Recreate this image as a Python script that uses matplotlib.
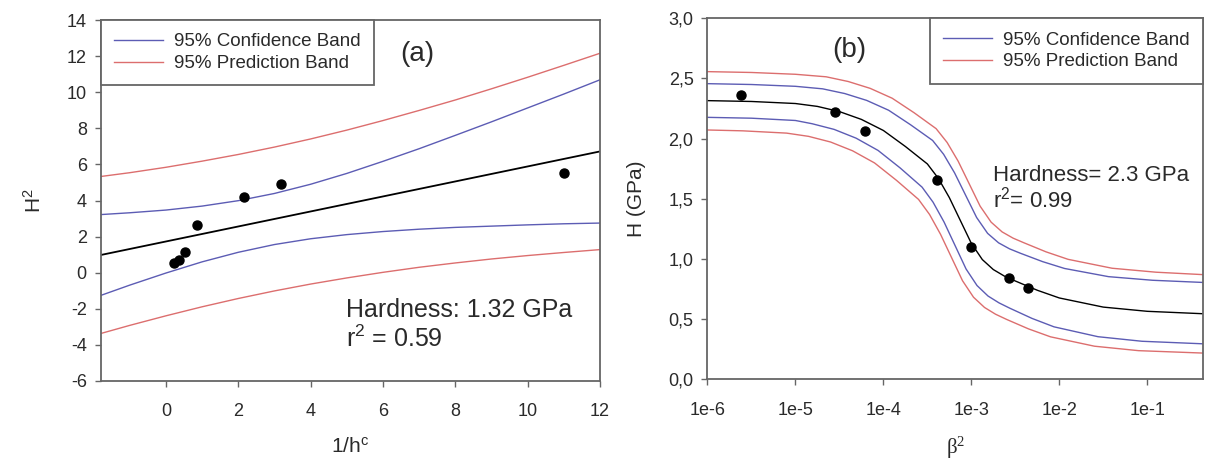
import matplotlib
matplotlib.use('Agg')
import matplotlib.pyplot as plt
import numpy as np
from matplotlib.ticker import FixedLocator, FixedFormatter, NullLocator

plt.rcParams['font.family'] = ['Liberation Sans', 'DejaVu Sans']
plt.rcParams['axes.unicode_minus'] = False

# panel (a): H^2 against 1/h^c
hc_inv = [0.23, 0.35, 0.54, 0.85, 2.15, 3.18, 11.0]
H2 = [0.54, 0.72, 1.15, 2.67, 4.22, 4.89, 5.52]
fit_a_x = [-1.8, 12]
fit_a_y = [0.98, 6.72]
band_a_x = [-1.8, -1, 0, 1, 2, 3, 4, 5, 6, 7, 8, 9, 10, 11, 12]
conf_a_up = [3.22, 3.32, 3.47, 3.69, 3.99, 4.39, 4.90, 5.50, 6.17, 6.87, 7.61, 8.36, 9.13, 9.90, 10.69]
conf_a_lo = [-1.26, -0.69, -0.02, 0.60, 1.13, 1.56, 1.88, 2.11, 2.28, 2.41, 2.51, 2.58, 2.65, 2.71, 2.75]
pred_a_up = [5.33, 5.54, 5.84, 6.18, 6.55, 6.96, 7.41, 7.90, 8.43, 8.99, 9.57, 10.19, 10.83, 11.49, 12.16]
pred_a_lo = [-3.37, -2.92, -2.39, -1.89, -1.43, -1.01, -0.63, -0.29, 0.02, 0.30, 0.54, 0.76, 0.95, 1.12, 1.28]

# panel (b): H against beta^2 (curve positions given as log10 of beta^2)
beta2 = [2.4e-6, 2.83e-5, 6.2e-5, 4.07e-4, 1.0e-3, 2.65e-3, 4.4e-3]
H = [2.366, 2.219, 2.066, 1.657, 1.097, 0.845, 0.756]
fit_b_exp = [-6, -5.5, -5, -4.75, -4.5, -4.25, -4, -3.75, -3.5, -3.375, -3.25,
             -3.125, -3, -2.875, -2.75, -2.625, -2.5, -2.25, -2, -1.5, -1, -0.37]
fit_b = [2.316, 2.309, 2.292, 2.268, 2.225, 2.160, 2.068, 1.935, 1.790, 1.670, 1.510,
         1.320, 1.130, 0.995, 0.912, 0.858, 0.817, 0.740, 0.676, 0.600, 0.565, 0.545]
conf_up_exp = [-6, -5.5, -5, -4.69, -4.44, -4.19, -3.94, -3.69, -3.44, -3.315, -3.19,
               -3.065, -2.94, -2.815, -2.69, -2.565, -2.44, -2.19, -1.94, -1.44, -0.94, -0.37]
conf_b_up = [2.457, 2.450, 2.435, 2.414, 2.375, 2.318, 2.236, 2.115, 1.985, 1.870, 1.715,
             1.530, 1.345, 1.213, 1.134, 1.084, 1.047, 0.978, 0.921, 0.853, 0.823, 0.805]
conf_lo_exp = [-6, -5.5, -5, -4.81, -4.56, -4.31, -4.06, -3.81, -3.56, -3.435, -3.31,
               -3.185, -3.06, -2.935, -2.81, -2.685, -2.56, -2.31, -2.06, -1.56, -1.06, -0.37]
conf_b_lo = [2.177, 2.170, 2.151, 2.124, 2.077, 2.004, 1.902, 1.757, 1.597, 1.472, 1.307,
             1.112, 0.917, 0.779, 0.692, 0.635, 0.590, 0.506, 0.436, 0.354, 0.316, 0.295]
pred_up_exp = [-6, -5.5, -5, -4.65, -4.4, -4.15, -3.9, -3.65, -3.4, -3.275, -3.15,
               -3.025, -2.9, -2.775, -2.65, -2.525, -2.4, -2.15, -1.9, -1.4, -0.9, -0.37]
pred_b_up = [2.557, 2.550, 2.535, 2.514, 2.475, 2.418, 2.336, 2.215, 2.083, 1.968, 1.813,
             1.626, 1.439, 1.306, 1.225, 1.173, 1.134, 1.059, 0.997, 0.923, 0.890, 0.870]
pred_lo_exp = [-6, -5.6, -5.1, -4.85, -4.6, -4.35, -4.1, -3.85, -3.6, -3.475, -3.35,
               -3.225, -3.1, -2.975, -2.85, -2.725, -2.6, -2.35, -2.1, -1.6, -1.1, -0.37]
pred_b_lo = [2.072, 2.065, 2.046, 2.019, 1.972, 1.899, 1.798, 1.653, 1.495, 1.370, 1.205,
             1.012, 0.819, 0.682, 0.597, 0.541, 0.498, 0.419, 0.353, 0.275, 0.238, 0.218]

blue = '#5c5cb4'
red = '#dc6e6e'
txt = '#2a2a2a'
spine_c = '#666666'

fig = plt.figure(figsize=(12.05, 4.70), dpi=100)
ax1 = fig.add_axes([0.0836, 0.1894, 0.4144, 0.768])
ax2 = fig.add_axes([0.5871, 0.193, 0.4112, 0.768])

for ax in (ax1, ax2):
    for s in ax.spines.values():
        s.set_color(spine_c)
        s.set_linewidth(1.3)
    ax.tick_params(direction='out', length=4, width=1.0, color=spine_c,
                   labelsize=13, labelcolor=txt)
    ax.tick_params(axis='x', pad=12)
    ax.tick_params(axis='y', pad=6)


def add_legend(ax, loc, anchor):
    h, l = ax.get_legend_handles_labels()
    leg = ax.legend(h[::-1], l[::-1], loc=loc, bbox_to_anchor=anchor, borderaxespad=0,
                    fontsize=13.5, fancybox=False, framealpha=1, edgecolor=spine_c,
                    handlelength=2.6, handletextpad=0.6, labelspacing=0.25, borderpad=0.7)
    leg.get_frame().set_linewidth(1.3)
    for t in leg.get_texts():
        t.set_color(txt)


# (a)
ax1.plot(band_a_x, pred_a_up, color=red, lw=1.0, label='95% Prediction Band')
ax1.plot(band_a_x, pred_a_lo, color=red, lw=1.0)
ax1.plot(band_a_x, conf_a_up, color=blue, lw=1.0, label='95% Confidence Band')
ax1.plot(band_a_x, conf_a_lo, color=blue, lw=1.0)
ax1.plot(fit_a_x, fit_a_y, color='black', lw=1.3)
ax1.plot(hc_inv, H2, 'o', color='black', ms=6.5)
ax1.set_xlim(-1.8, 12)
ax1.set_ylim(-6, 14)
ax1.set_xticks([0, 2, 4, 6, 8, 10, 12])
ax1.set_yticks(range(-6, 15, 2))
ax1.set_xlabel(r'$\mathregular{1/h^c}$', fontsize=15, color=txt, labelpad=12)
ax1.set_ylabel(r'$\mathregular{H^2}$', fontsize=15, color=txt, labelpad=16)
ax1.text(0.634, 0.906, '(a)', transform=ax1.transAxes, fontsize=20, color=txt, va='center', ha='center')
ax1.text(4.98, -2.45, 'Hardness: 1.32 GPa', fontsize=18, color=txt)
ax1.text(4.98, -4.12, r'$\mathregular{r^2}$ = 0.59', fontsize=18, color=txt)
add_legend(ax1, 'upper left', (0, 1))

# (b)
ax2.plot(10.0 ** np.array(pred_up_exp), pred_b_up, color=red, lw=1.0, label='95% Prediction Band')
ax2.plot(10.0 ** np.array(pred_lo_exp), pred_b_lo, color=red, lw=1.0)
ax2.plot(10.0 ** np.array(conf_up_exp), conf_b_up, color=blue, lw=1.0, label='95% Confidence Band')
ax2.plot(10.0 ** np.array(conf_lo_exp), conf_b_lo, color=blue, lw=1.0)
ax2.plot(10.0 ** np.array(fit_b_exp), fit_b, color='black', lw=1.0)
ax2.plot(beta2, H, 'o', color='black', ms=6.5)
ax2.set_xscale('log')
ax2.set_xlim(1e-6, 0.43)
ax2.set_ylim(0, 3)
ax2.xaxis.set_major_locator(FixedLocator([1e-6, 1e-5, 1e-4, 1e-3, 1e-2, 1e-1]))
ax2.xaxis.set_major_formatter(FixedFormatter(['1e-6', '1e-5', '1e-4', '1e-3', '1e-2', '1e-1']))
ax2.xaxis.set_minor_locator(NullLocator())
ax2.set_yticks([0, 0.5, 1, 1.5, 2, 2.5, 3])
ax2.set_yticklabels(['0,0', '0,5', '1,0', '1,5', '2,0', '2,5', '3,0'])
ax2.set_xlabel(r'$\mathregular{β^2}$', fontsize=15, color=txt, labelpad=12,
               family=['Liberation Serif', 'DejaVu Serif'])
ax2.set_ylabel('H (GPa)', fontsize=15, color=txt, labelpad=16)
ax2.text(0.286, 0.912, '(b)', transform=ax2.transAxes, fontsize=20, color=txt, va='center', ha='center')
ax2.text(1.77e-3, 1.648, 'Hardness= 2.3 GPa', fontsize=16, color=txt)
ax2.text(1.77e-3, 1.424, r'$\mathregular{r^2}$= 0.99', fontsize=16, color=txt)
add_legend(ax2, 'upper right', (1, 1))

fig.savefig('out.png', dpi=100)
